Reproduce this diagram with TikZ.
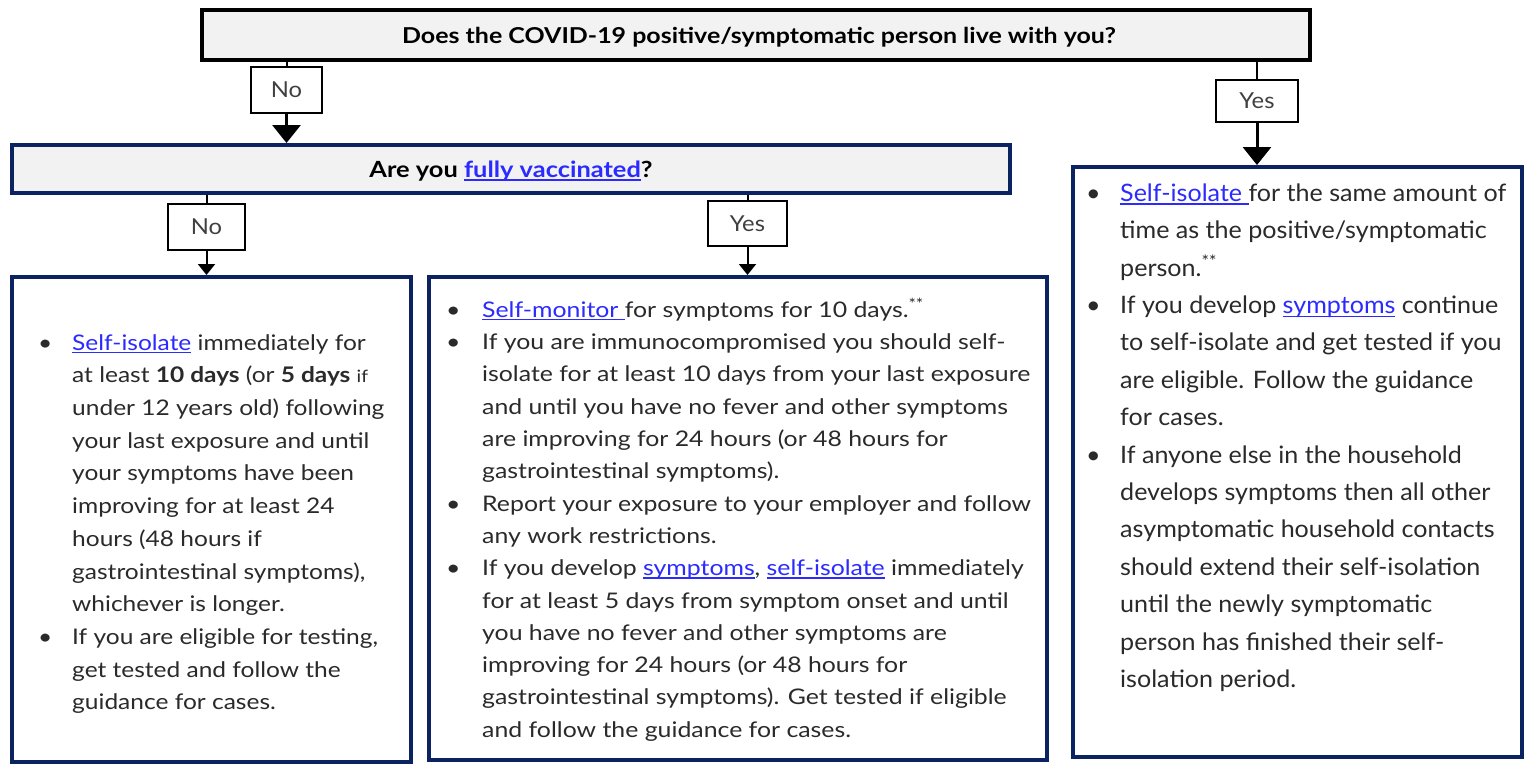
\documentclass[tikz,border=0pt]{standalone}
\usepackage{fontspec}
\setmainfont{Lato}
\newfontfamily\wideA[FakeStretch=1.14]{Lato}
\newfontfamily\wideB[FakeStretch=1.155]{Lato}
\newfontfamily\wideC[FakeStretch=1.045]{Lato}
\newfontfamily\lblfont[FakeStretch=1.08]{Lato}
\usetikzlibrary{arrows.meta}
\definecolor{navy}{HTML}{0B2461}
\definecolor{boxgray}{HTML}{F2F2F2}
\definecolor{linkblue}{HTML}{2B2BFF}
\definecolor{bodytext}{HTML}{2A2A2A}
\definecolor{labeltext}{HTML}{404040}
\newsavebox{\lnkbox}
\newlength{\bulw}
\newcommand{\lnk}[1]{{\color{linkblue}\sbox{\lnkbox}{#1}\rlap{\rule[-0.14em]{\wd\lnkbox}{1.3pt}}\usebox{\lnkbox}}}
\newcommand{\bul}{\makebox[\bulw][l]{\textbullet}}
\newcommand{\ind}{\hspace*{\bulw}}
\tikzset{
  qbox/.style={draw=black, line width=4pt, fill=boxgray, inner sep=0pt},
  q2box/.style={draw=navy, line width=4pt, fill=boxgray, inner sep=0pt},
  navybox/.style={draw=navy, line width=4pt, fill=white, inner sep=0pt},
  lbl/.style={draw=black, line width=1.3pt, fill=white, inner sep=0pt, font=\lblfont\fontsize{22}{26}\selectfont, text=labeltext},
  qtext/.style={font=\wideA\bfseries\fontsize{22.3}{26}\selectfont, text=black},
  body/.style={inner sep=0pt, align=left, anchor=north west, text=bodytext},
  bigarrow/.style={line width=3pt, -{Triangle[width=28pt,length=18pt]}},
  smallarrow/.style={line width=2pt, -{Triangle[width=17pt,length=11pt]}},
  conn/.style={line width=2pt}
}
\begin{document}
\begin{tikzpicture}[x=1pt,y=-1pt]
\useasboundingbox (0,0) rectangle (1526,764);
% question boxes
\node[qbox, minimum width=1108pt, minimum height=50pt] (q1) at (756,35) {};
\node[qtext, font=\wideA\bfseries\fontsize{21.9}{26}\selectfont] (q1t) at (759,37) {Does the COVID-19 positive/symptomatic person live with you?};
\node[q2box, minimum width=998pt, minimum height=48pt] (q2) at (511,169) {};
\node[qtext] (q2t) at (511,171) {Are you \lnk{fully vaccinated}?};
% labels
\node[lbl, minimum width=71pt, minimum height=46pt] (no1) at (286.5,90) {No};
\node[lbl, minimum width=82pt, minimum height=42pt] (yes1) at (1257,101) {Yes};
\node[lbl, minimum width=77pt, minimum height=46pt] (no2) at (206.5,227) {No};
\node[lbl, minimum width=79pt, minimum height=45pt] (yes2) at (747.5,223.5) {Yes};
% answer boxes
\node[navybox, minimum width=399pt, minimum height=485pt, anchor=north west] (boxA) at (10,275) {};
\node[navybox, minimum width=618pt, minimum height=483pt, anchor=north west] (boxB) at (427,275) {};
\node[navybox, minimum width=449pt, minimum height=590pt, anchor=north west] (boxC) at (1071,165) {};
% connectors
\draw[conn] (q1.south -| no1) -- (no1.north);
\draw[bigarrow] (no1.south) -- (q2.north -| no1);
\draw[conn] (q1.south -| yes1) -- (yes1.north);
\draw[bigarrow] (yes1.south) -- (boxC.north -| yes1);
\draw[conn] (q2.south -| no2) -- (no2.north);
\draw[smallarrow] (no2.south) -- (boxA.north -| no2);
\draw[conn] (q2.south -| yes2) -- (yes2.north);
\draw[smallarrow] (yes2.south) -- (boxB.north -| yes2);
% body texts
\global\bulw=34pt
\node[body, font=\wideA\fontsize{21.5}{32.7}\selectfont] (tA) at (38,327) {%
\strut\bul\lnk{Self-isolate} immediately for\\
\ind at least \textbf{10 days} (or \textbf{5 days} {\fontsize{17}{20}\selectfont if}\\
\ind under 12 years old) following\\
\ind your last exposure and until\\
\ind your symptoms have been\\
\ind improving for at least 24\\
\ind hours (48 hours if\\
\ind gastrointestinal symptoms),\\
\ind whichever is longer.\\
\bul If you are eligible for testing,\\
\ind get tested and follow the\\
\ind guidance for cases.};
\global\bulw=36pt
\node[body, font=\wideB\fontsize{21.5}{32.3}\selectfont] (tB) at (446,294.5) {%
\strut\bul\lnk{Self-monitor }for symptoms for 10 days.\textsuperscript{**}\\
\bul If you are immunocompromised you should self-\\
\ind isolate for at least 10 days from your last exposure\\
\ind and until you have no fever and other symptoms\\
\ind are improving for 24 hours (or 48 hours for\\
\ind gastrointestinal symptoms).\\
\bul Report your exposure to your employer and follow\\
\ind any work restrictions.\\
\bul If you develop \lnk{symptoms}, \lnk{self-isolate} immediately\\
\ind for at least 5 days from symptom onset and until\\
\ind you have no fever and other symptoms are\\
\ind improving for 24 hours (or 48 hours for\\
\ind gastrointestinal symptoms). Get tested if eligible\\
\ind and follow the guidance for cases.};
\global\bulw=34pt
\node[body, font=\wideC\fontsize{24}{37.4}\selectfont] (tC) at (1086,175) {%
\strut\bul\lnk{Self-isolate }for the same amount of\\
\ind time as the positive/symptomatic\\
\ind person.\textsuperscript{**}\\
\bul If you develop \lnk{symptoms} continue\\
\ind to self-isolate and get tested if you\\
\ind are eligible. Follow the guidance\\
\ind for cases.\\
\bul If anyone else in the household\\
\ind develops symptoms then all other\\
\ind asymptomatic household contacts\\
\ind should extend their self-isolation\\
\ind until the newly symptomatic\\
\ind person has finished their self-\\
\ind isolation period.};
\end{tikzpicture}
\end{document}
